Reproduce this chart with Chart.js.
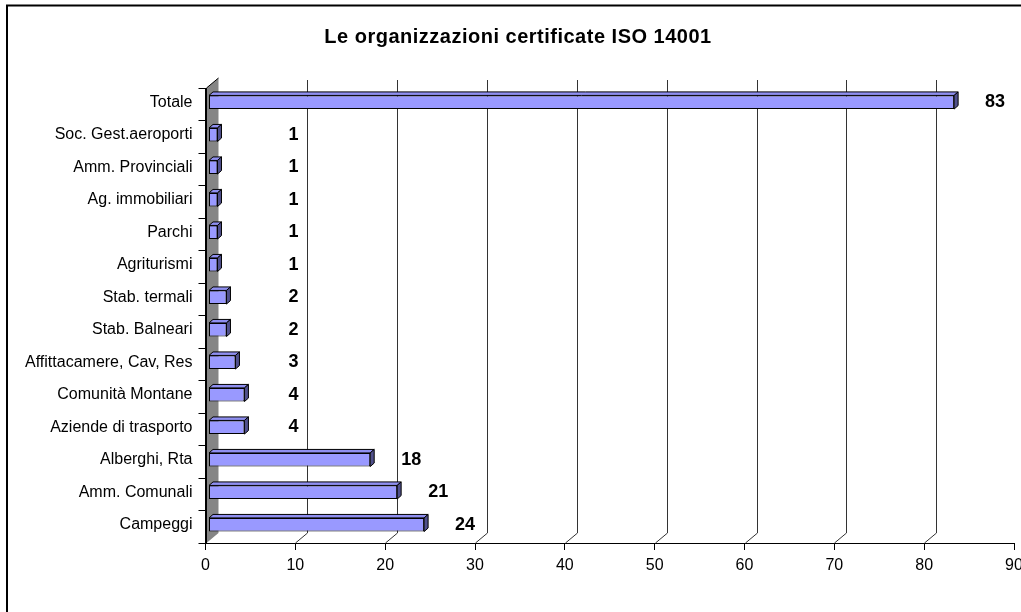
<!DOCTYPE html>
<html><head><meta charset="utf-8">
<script src="https://cdn.jsdelivr.net/npm/chart.js"></script>
<style>html,body{margin:0;padding:0;background:#fff;overflow:hidden}canvas{display:block}</style>
</head><body>
<canvas id="c" width="1021" height="612"></canvas>
<script>
const chartTitle = 'Le organizzazioni certificate ISO 14001';
const categories = ['Totale', 'Soc. Gest.aeroporti', 'Amm. Provinciali', 'Ag. immobiliari', 'Parchi', 'Agriturismi', 'Stab. termali', 'Stab. Balneari', 'Affittacamere, Cav, Res', 'Comunità Montane', 'Aziende di trasporto', 'Alberghi, Rta', 'Amm. Comunali', 'Campeggi'];
const values = [83, 1, 1, 1, 1, 1, 2, 2, 3, 4, 4, 18, 21, 24];
const xMin = 0, xMax = 90, xStep = 10;

const FONT = "'Liberation Sans', Arial, sans-serif";
const DEPTH = {dx: 12, dy: -10};
const BAR_DEPTH = {dx: 4, dy: -3.5};
const BAR_SHIFT = {dx: 3, dy: -2};

const threeD = {
  id: 'threeD',
  afterInit(chart) {
    const tb = chart.titleBlock;
    if (tb) {
      const orig = tb.draw;
      tb.draw = function (...args) {
        const c = chart.ctx; c.save(); c.letterSpacing = '0.5px';
        orig.apply(this, args); c.restore();
      };
    }
  },
  beforeDatasetsDraw(chart) {
    const {ctx, chartArea: a, scales: {x}} = chart;
    ctx.save();
    ctx.strokeStyle = '#333'; ctx.lineWidth = 1;
    x.ticks.forEach(t => {
      if (t.value <= xMin || t.value >= xMax) return;
      const px = Math.round(x.getPixelForValue(t.value)) + 0.5;
      ctx.beginPath();
      ctx.moveTo(px, a.bottom);
      ctx.lineTo(px + DEPTH.dx, a.bottom + DEPTH.dy);
      ctx.lineTo(px + DEPTH.dx, a.top + DEPTH.dy + 2);
      ctx.stroke();
    });
    const x0 = Math.round(x.getPixelForValue(xMin)) + 0.5;
    ctx.beginPath();
    ctx.moveTo(x0, a.top); ctx.lineTo(x0 + DEPTH.dx, a.top + DEPTH.dy);
    ctx.lineTo(x0 + DEPTH.dx, a.bottom + DEPTH.dy); ctx.lineTo(x0, a.bottom); ctx.closePath();
    ctx.fillStyle = '#858585'; ctx.fill();
    ctx.strokeStyle = '#000';
    ctx.beginPath(); ctx.moveTo(x0, a.bottom); ctx.lineTo(x0, a.top); ctx.lineTo(x0 + DEPTH.dx, a.top + DEPTH.dy); ctx.stroke();
    ctx.restore();
    ctx.save();
    ctx.translate(BAR_SHIFT.dx, BAR_SHIFT.dy);
  },
  afterDatasetsDraw(chart) {
    const ctx = chart.ctx;
    const meta = chart.getDatasetMeta(0);
    ctx.lineWidth = 1; ctx.strokeStyle = '#000';
    meta.data.forEach(el => {
      const p = el.getProps(['x', 'base', 'y', 'height'], true);
      const l = p.base, r = p.x, t = p.y - p.height / 2, b = p.y + p.height / 2;
      const dx = BAR_DEPTH.dx, dy = BAR_DEPTH.dy;
      ctx.beginPath();
      ctx.moveTo(l, t); ctx.lineTo(l + dx, t + dy); ctx.lineTo(r + dx, t + dy); ctx.lineTo(r, t); ctx.closePath();
      ctx.fillStyle = '#8f8ff0'; ctx.fill(); ctx.stroke();
      ctx.beginPath();
      ctx.moveTo(r, t); ctx.lineTo(r + dx, t + dy); ctx.lineTo(r + dx, b + dy); ctx.lineTo(r, b); ctx.closePath();
      ctx.fillStyle = '#50508c'; ctx.fill(); ctx.stroke();
    });
    ctx.restore();
    const x = chart.scales.x;
    ctx.save();
    ctx.font = 'bold 18px ' + FONT;
    ctx.fillStyle = '#000';
    ctx.textAlign = 'center'; ctx.textBaseline = 'middle';
    meta.data.forEach((el, i) => {
      const p = el.getProps(['x', 'y'], true);
      const lx = Math.max(p.x + 44, x.getPixelForValue(xMin) + 88);
      ctx.fillText(String(values[i]), lx, p.y - 2);
    });
    ctx.restore();
  },
  afterDraw(chart) {
    const ctx = chart.ctx;
    ctx.save();
    ctx.strokeStyle = '#000'; ctx.lineWidth = 2;
    ctx.strokeRect(7, 5.5, 1040, 640);
    ctx.restore();
  }
};

new Chart(document.getElementById('c'), {
  type: 'bar',
  data: {
    labels: categories,
    datasets: [{
      data: values,
      backgroundColor: '#9999ff',
      borderColor: '#000',
      borderWidth: 1,
      borderSkipped: false,
      barPercentage: 0.42,
      categoryPercentage: 1
    }]
  },
  options: {
    indexAxis: 'y',
    responsive: false,
    animation: false,
    devicePixelRatio: 1,
    layout: {padding: {left: 22, right: 7, top: 0, bottom: 0}},
    plugins: {
      legend: {display: false},
      tooltip: {enabled: false},
      title: {
        display: true, text: chartTitle, color: '#000',
        font: {family: FONT, size: 20, weight: 'bold', lineHeight: 1.2},
        padding: {top: 25.5, bottom: 38.5}
      }
    },
    scales: {
      x: {
        min: xMin, max: xMax,
        ticks: {stepSize: xStep, color: '#000', font: {family: FONT, size: 16}, padding: 6},
        grid: {drawOnChartArea: false, color: '#000', tickLength: 7},
        border: {color: '#000', width: 1},
        afterFit(s) { s.height = 69; s.paddingLeft = 0; s.paddingRight = 0; }
      },
      y: {
        ticks: {color: '#000', font: {family: FONT, size: 16}, padding: 6, labelOffset: -2, autoSkip: false},
        grid: {drawOnChartArea: false, color: '#000', tickLength: 7, offset: true},
        border: {color: '#000', width: 1},
        afterFit(s) { s.width = 183.5; s.paddingTop = 0; s.paddingBottom = 0; }
      }
    }
  },
  plugins: [threeD]
});
</script>
</body></html>
